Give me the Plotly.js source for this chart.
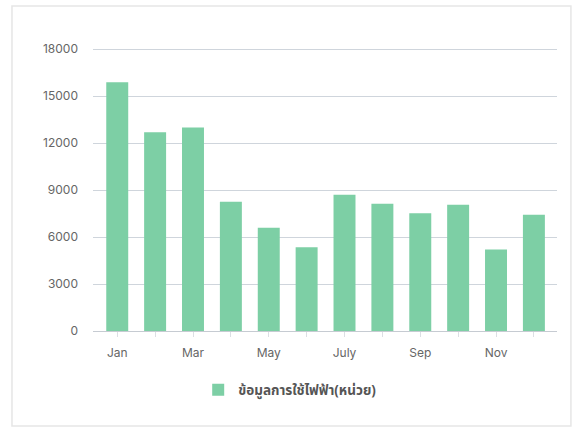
<!DOCTYPE html>
<html>
<head>
<meta charset="utf-8">
<script src="https://cdn.plot.ly/plotly-3.0.1.min.js"></script>
<style>
html,body{margin:0;padding:0;background:#fff;}
#chart{width:574px;height:431px;}
</style>
</head>
<body>
<div id="chart"></div>
<script>
const months = ['Jan','Feb','Mar','Apr','May','Jun','July','Aug','Sep','Oct','Nov','Dec'];
const tickLabels = ['Jan','','Mar','','May','','July','','Sep','','Nov',''];
const usage = [15900, 12700, 13000, 8250, 6600, 5350, 8700, 8130, 7530, 8060, 5210, 7430];
const seriesName = 'ข้อมูลการใช้ไฟฟ้า(หน่วย)';
const yTicks = [0, 3000, 6000, 9000, 12000, 15000, 18000];

const trace = {
  type: 'bar',
  x: months,
  y: usage,
  name: seriesName,
  marker: {color: 'rgb(125,207,165)'},
  width: 0.58,
  showlegend: true,
  hoverinfo: 'x+y'
};

const layout = {
  width: 574,
  height: 431,
  margin: {l: 93, r: 17, t: 43, b: 100},
  paper_bgcolor: '#fff',
  plot_bgcolor: '#fff',
  font: {family: 'Inter, "Noto Sans", sans-serif', size: 12, color: '#666'},
  showlegend: true,
  xaxis: {
    type: 'category',
    range: [-0.64, 11.61],
    tickmode: 'array',
    tickvals: months,
    ticktext: tickLabels,
    ticks: 'outside',
    ticklen: 5,
    tickcolor: '#dcdfe4',
    ticklabelstandoff: 6,
    showline: true,
    linecolor: '#c6cbd2',
    linewidth: 1,
    showgrid: false,
    zeroline: false,
    tickfont: {size: 12, color: '#666'},
    fixedrange: true
  },
  yaxis: {
    range: [0, 18400],
    tickmode: 'array',
    tickvals: yTicks,
    ticktext: yTicks.map(String),
    showgrid: true,
    gridcolor: '#cfd5dc',
    gridwidth: 1,
    zeroline: false,
    showline: false,
    ticks: '',
    ticklabelstandoff: 14,
    tickfont: {size: 12, color: '#666'},
    fixedrange: true
  },
  legend: {
    orientation: 'h',
    x: 0.425,
    xanchor: 'center',
    y: -0.205,
    yanchor: 'middle',
    font: {size: 13.5, color: '#555', family: '"Noto Sans Thai", "Noto Sans", "DejaVu Sans", sans-serif', weight: 'bold'},
    itemwidth: 30
  },
  shapes: [{
    type: 'rect',
    xref: 'paper', yref: 'paper',
    x0: -0.1746, x1: 1.030, y0: -0.3299, y1: 1.1285,
    line: {color: '#e6e6e6', width: 1.5},
    fillcolor: 'rgba(0,0,0,0)',
    layer: 'below'
  }]
};

Plotly.newPlot('chart', [trace], layout, {displayModeBar: false, staticPlot: false});
</script>
</body>
</html>
